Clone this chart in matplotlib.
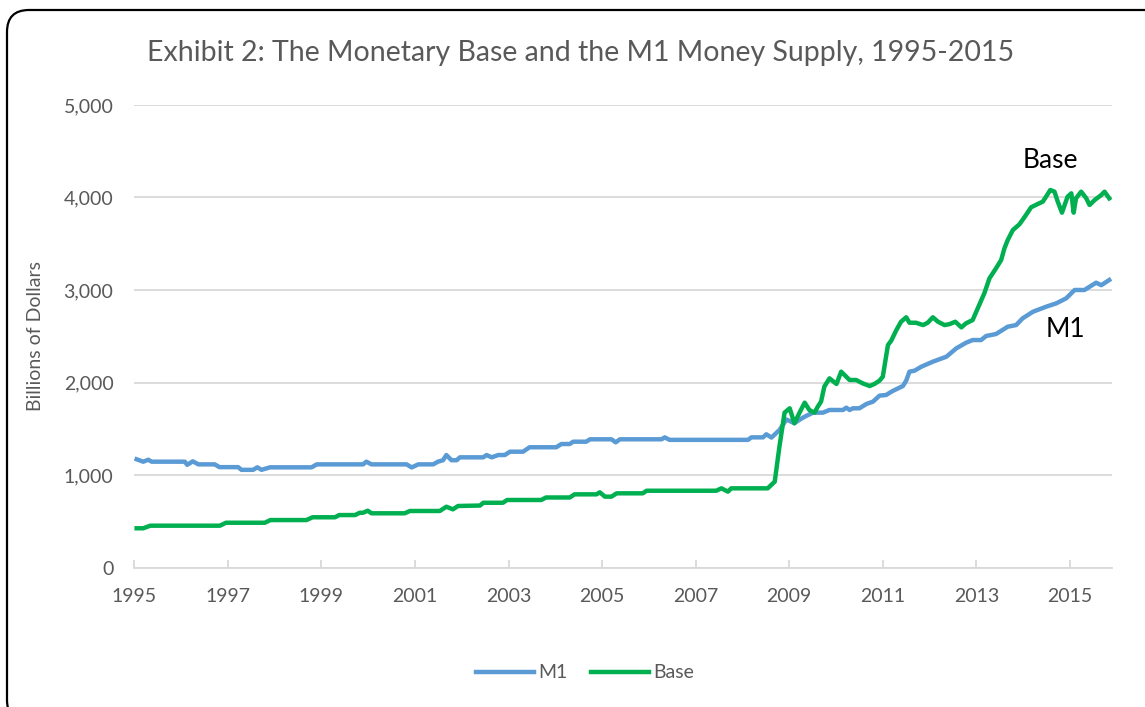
import matplotlib
matplotlib.use("Agg")
import matplotlib.pyplot as plt
import matplotlib.patches as mpatches
from matplotlib.ticker import FuncFormatter

plt.rcParams['font.family'] = ['Lato', 'DejaVu Sans']

# M1 money supply, billions of dollars
m1_year = [1995.05, 1995.19, 1995.30, 1995.37, 1996.08, 1996.13, 1996.25, 1996.37, 1996.72, 1996.82,
           1997.22, 1997.29, 1997.54, 1997.63, 1997.72, 1997.90, 1998.79, 1998.90, 1999.89, 1999.96,
           2000.07, 2000.82, 2000.93, 2001.07, 2001.39, 2001.49, 2001.60, 2001.67, 2001.78, 2001.89,
           2001.96, 2002.46, 2002.53, 2002.64, 2002.78, 2002.92, 2003.03, 2003.31, 2003.45, 2004.02,
           2004.13, 2004.31, 2004.38, 2004.66, 2004.74, 2005.20, 2005.29, 2005.38, 2006.27, 2006.34,
           2006.44, 2008.12, 2008.19, 2008.44, 2008.51, 2008.62, 2008.79, 2008.94, 2009.11, 2009.26,
           2009.36, 2009.51, 2009.72, 2009.86, 2010.15, 2010.22, 2010.29, 2010.36, 2010.50, 2010.65,
           2010.79, 2010.93, 2011.07, 2011.21, 2011.43, 2011.50, 2011.57, 2011.68, 2011.82, 2012.07,
           2012.36, 2012.57, 2012.78, 2012.92, 2013.10, 2013.21, 2013.42, 2013.67, 2013.85, 2013.99,
           2014.21, 2014.49, 2014.71, 2014.92, 2015.10, 2015.31, 2015.56, 2015.67, 2015.84]
m1_val = [1170, 1144, 1165, 1144, 1144, 1110, 1148, 1115, 1115, 1085,
          1085, 1056, 1056, 1083, 1056, 1083, 1083, 1115, 1115, 1144,
          1115, 1115, 1082, 1115, 1115, 1144, 1160, 1216, 1160, 1160,
          1191, 1191, 1216, 1191, 1216, 1216, 1252, 1252, 1300, 1300,
          1335, 1335, 1360, 1360, 1386, 1386, 1353, 1386, 1386, 1407,
          1380, 1380, 1407, 1407, 1440, 1405, 1486, 1600, 1560, 1610,
          1638, 1674, 1674, 1703, 1703, 1728, 1703, 1721, 1721, 1768,
          1793, 1858, 1865, 1908, 1962, 2020, 2117, 2128, 2170, 2225,
          2279, 2369, 2430, 2459, 2459, 2503, 2524, 2603, 2621, 2694,
          2765, 2819, 2856, 2910, 3000, 3000, 3079, 3052, 3108]

# Monetary base, billions of dollars
base_year = [1995.05, 1995.19, 1995.34, 1996.83, 1996.96, 1997.79, 1997.91, 1998.68, 1998.81, 1999.29,
             1999.38, 1999.72, 1999.82, 1999.89, 1999.99, 2000.07, 2000.78, 2000.89, 2001.53, 2001.67,
             2001.81, 2001.92, 2002.39, 2002.46, 2002.88, 2002.97, 2003.70, 2003.80, 2004.31, 2004.41,
             2004.88, 2004.95, 2005.06, 2005.20, 2005.31, 2005.87, 2005.95, 2007.44, 2007.55, 2007.69,
             2007.76, 2008.54, 2008.69, 2008.79, 2008.90, 2009.01, 2009.11, 2009.22, 2009.33, 2009.43,
             2009.54, 2009.61, 2009.68, 2009.75, 2009.86, 2010.01, 2010.11, 2010.29, 2010.43, 2010.57,
             2010.72, 2010.82, 2010.93, 2011.00, 2011.11, 2011.18, 2011.29, 2011.39, 2011.50, 2011.57,
             2011.71, 2011.86, 2011.96, 2012.07, 2012.18, 2012.32, 2012.43, 2012.55, 2012.68, 2012.78,
             2012.92, 2013.03, 2013.17, 2013.28, 2013.42, 2013.53, 2013.60, 2013.67, 2013.78, 2013.92,
             2014.06, 2014.17, 2014.31, 2014.42, 2014.49, 2014.58, 2014.67, 2014.74, 2014.83, 2014.95,
             2015.03, 2015.08, 2015.13, 2015.24, 2015.35, 2015.42, 2015.53, 2015.67, 2015.74, 2015.84]
base_val = [424, 424, 452, 452, 484, 484, 513, 513, 543, 543,
            567, 567, 592, 592, 614, 586, 586, 611, 611, 657,
            629, 665, 670, 700, 700, 730, 730, 757, 757, 791,
            791, 813, 766, 766, 802, 802, 830, 830, 856, 820,
            856, 856, 928, 1306, 1674, 1721, 1559, 1674, 1782, 1703,
            1674, 1739, 1793, 1955, 2045, 1984, 2117, 2027, 2027, 1991,
            1962, 1984, 2020, 2063, 2405, 2452, 2567, 2657, 2705, 2646,
            2646, 2621, 2646, 2705, 2657, 2621, 2632, 2657, 2596, 2640,
            2675, 2802, 2964, 3126, 3234, 3324, 3450, 3540, 3648, 3710,
            3810, 3894, 3929, 3955, 4009, 4081, 4063, 3955, 3836, 4009,
            4045, 3836, 3991, 4063, 3991, 3919, 3973, 4027, 4063, 3991]

year_ticks = list(range(1995, 2016, 2))

gray = '#595959'
grid_c = '#D9D9D9'

fig = plt.figure(figsize=(11.45, 7.07), dpi=100)
ax = fig.add_axes([0.1173, 0.1973, 0.9712 - 0.1173, 0.8515 - 0.1973])

ax.plot(m1_year, m1_val, color='#5B9BD5', lw=3.2, label='M1', solid_joinstyle='round')
ax.plot(base_year, base_val, color='#00B050', lw=3.2, label='Base', solid_joinstyle='round')

ax.set_xlim(1995, 2015.9)
ax.set_ylim(0, 5000)
ax.set_yticks(range(0, 5001, 1000))
ax.yaxis.set_major_formatter(FuncFormatter(lambda v, p: f'{int(v):,}'))
ax.set_xticks(year_ticks)
ax.set_xticklabels([str(y) for y in year_ticks])

ax.grid(axis='y', color=grid_c, lw=1.3)
ax.set_axisbelow(True)
for s in ['top', 'right', 'left']:
    ax.spines[s].set_visible(False)
ax.spines['bottom'].set_color(grid_c)
ax.spines['bottom'].set_linewidth(1.3)
ax.tick_params(axis='y', length=0, pad=15, labelsize=14, labelcolor=gray)
ax.tick_params(axis='x', direction='in', length=6, width=1.3, color=grid_c, pad=15,
               labelsize=14, labelcolor=gray)

ax.set_ylabel('Billions of Dollars', fontsize=14, color=gray, labelpad=14)
fig.text(0.507, 0.925, 'Exhibit 2: The Monetary Base and the M1 Money Supply, 1995-2015',
         ha='center', va='center', fontsize=20.5, color=gray)

ax.text(2014.58, 4405, 'Base', fontsize=19, ha='center', va='center', color='black')
ax.text(2014.90, 2578, 'M1', fontsize=19, ha='center', va='center', color='black')

fig.legend(loc='center', bbox_to_anchor=(0.511, 1 - 673 / 707), ncol=2, frameon=False,
           fontsize=14, labelcolor=gray, handlelength=3.0, handletextpad=0.2, columnspacing=1.2)

# rounded outer frame, runs off the right and bottom edges like the original
border = mpatches.FancyBboxPatch((0.07, -0.15), 11.8, 7.07 - 0.10 + 0.15,
                                 boxstyle='round,pad=0,rounding_size=0.22',
                                 transform=fig.dpi_scale_trans, fill=False,
                                 edgecolor='black', lw=1.6)
fig.add_artist(border)

fig.savefig('out.png', dpi=100)
